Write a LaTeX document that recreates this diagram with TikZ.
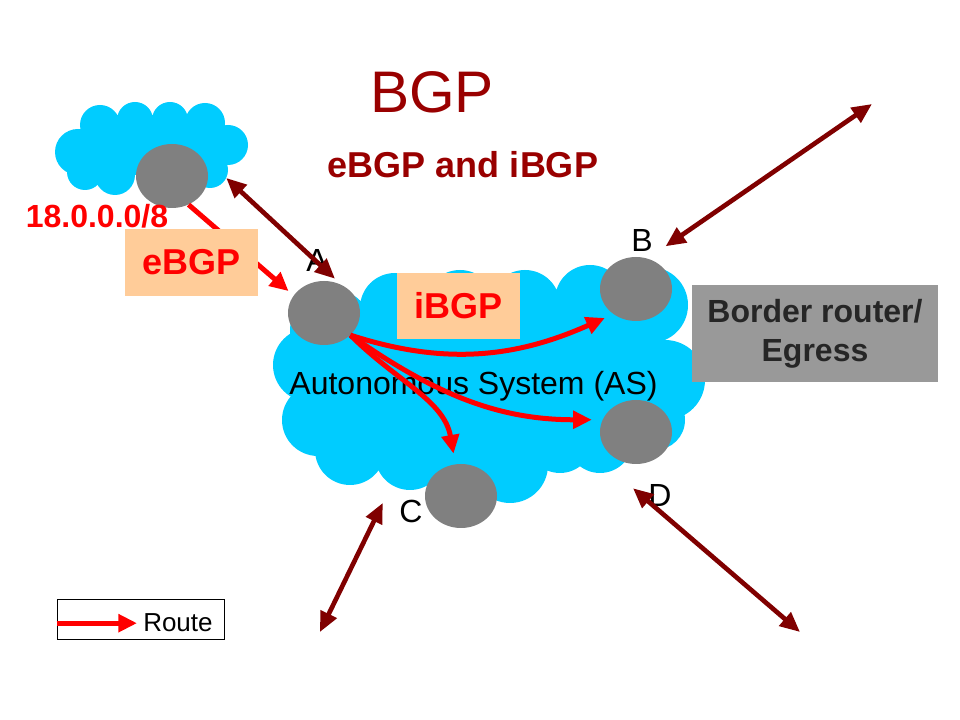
\documentclass[tikz,border=0pt]{standalone}
\usepackage{fontspec}
\setmainfont{Liberation Sans}
\usetikzlibrary{arrows.meta,positioning,shapes.geometric}
\definecolor{cloudblue}{RGB}{0,204,255}
\definecolor{routergray}{RGB}{128,128,128}
\definecolor{peach}{RGB}{255,204,153}
\definecolor{boxgray}{RGB}{153,153,153}
\definecolor{linkred}{RGB}{128,0,0}
\definecolor{titlered}{RGB}{153,0,0}
\definecolor{routered}{RGB}{255,0,0}

\begin{document}
\begin{tikzpicture}[
  x=0.75pt, y=0.75pt,
  every node/.style={font=\fontsize{24}{29}\selectfont},
  router/.style={ellipse,fill=routergray,minimum width=54pt,
                 minimum height=48pt,inner sep=0pt},
  tag/.style={fill=peach,text=routered,inner sep=0pt,
              font=\fontsize{27}{32}\selectfont\bfseries},
  letter/.style={anchor=base,inner sep=0pt},
  route/.style={draw=routered,line width=3.75pt,
                -{Triangle[length=14pt,width=13pt]}},
  peer/.style={draw=linkred,line width=3.5pt,
               {Triangle[length=15pt,width=13pt]}-{Triangle[length=15pt,width=13pt]}},
]
  \path[fill=white] (0,0) rectangle (960,720);
  \useasboundingbox (0,0) rectangle (960,720);

  % clouds
  \fill[cloudblue] (78,568) -- (100,595) -- (135,600) -- (170,600)
    -- (205,597) -- (228,575) -- (210,550) -- (160,545) -- (115,545)
    -- (85,548) -- cycle;
  \fill[cloudblue] (78,568) circle (23) (100,595) circle (20)
    (135,600) circle (18) (170,600) circle (18) (205,597) circle (20)
    (228,575) circle (20) (210,550) circle (18) (160,545) circle (20)
    (115,545) circle (20) (85,548) circle (18);
  \fill[cloudblue] (335,395) -- (395,412) -- (460,415) -- (525,415)
    -- (590,420) -- (650,415) -- (665,340) -- (655,300) -- (600,280)
    -- (560,280) -- (510,255) -- (460,262) -- (410,265) -- (350,270)
    -- (318,300) -- (310,355) -- (320,390) -- cycle;
  \fill[cloudblue] (335,395) circle (35) (395,412) circle (35)
    (460,415) circle (35) (525,415) circle (35) (590,420) circle (35)
    (650,415) circle (38) (665,340) circle (40) (655,300) circle (30)
    (600,280) circle (33) (560,280) circle (33) (510,255) circle (38)
    (460,262) circle (35) (410,265) circle (35) (350,270) circle (35)
    (318,300) circle (36) (310,355) circle (37) (320,390) circle (30);

  \node[letter] (as) at (473.5,325) {Autonomous System (AS)};

  \node[router] (rX) at (172,544) {};
  \node[router] (rA) at (324,407) {};
  \node[router] (rB) at (636,431) {};
  \node[router] (rC) at (461,224) {};
  \node[router] (rD) at (636,288) {};

  \draw[route,shorten >=5pt] (rX.-60) -- (rA.150);
  \draw[route,shorten >=7pt] (rA.-40) to[out=-18,in=204] (rB.228);
  \draw[route,shorten >=8pt] (rA.-40) to[out=-35,in=180] (rD.160);
  \draw[route,shorten >=8pt] (rA.-40) to[out=-45,in=100] (rC.100);

  \node[tag,minimum width=99.75pt,minimum height=50.25pt] (ebgp)
    at (191.5,457.5) {eBGP};
  \node[tag,minimum width=92.25pt,minimum height=49.5pt] (ibgp)
    at (458.5,414) {iBGP};
  \node[fill=boxgray,text=black!85,font=\fontsize{24}{29}\selectfont\bfseries,
        align=center,minimum width=184.5pt,minimum height=72.75pt,
        inner sep=0pt] (border) at (815,386.5) {Border router/\\Egress};

  \node[letter,text=titlered,font=\fontsize{44}{53}\selectfont] (title)
    at (432,607) {BGP};
  \node[letter,text=titlered,font=\fontsize{27}{32}\selectfont\bfseries]
    (subtitle) at (463,542) {eBGP and iBGP};
  \node[letter,text=routered,font=\fontsize{24}{29}\selectfont\bfseries]
    (prefix) at (97,492) {18.0.0.0/8};
  \node[letter] (labA) at (317,448) {A};
  \node[letter] (labB) at (642,468) {B};
  \node[letter] (labC) at (411,197) {C};
  \node[letter] (labD) at (660,213) {D};

  \coordinate (farB) at (872,616);
  \coordinate (farC) at (320,88);
  \coordinate (farD) at (800,88);
  \draw[peer] ([shift={(18,-2)}]rX.east) -- ([shift={(11,2)}]rA.north);
  \draw[peer] ([shift={(13,14)}]rB.60) -- (farB);
  \draw[peer] ([shift={(-42,-7)}]rC.west) -- (farC);
  \draw[peer] ([shift={(-3,-24)}]rD.south) -- (farD);

  % legend
  \node[draw=black,line width=0.75pt,fill=white,minimum width=125.25pt,
        minimum height=30pt,inner sep=0pt] (key) at (140.5,100) {};
  \node[letter,anchor=base west,font=\fontsize{19.5}{23}\selectfont]
    (keytxt) at (143,88) {Route};
  \draw[route,shorten >=4.5pt] (key.west |- keytxt.west) -- (keytxt.west);
\end{tikzpicture}
\end{document}
